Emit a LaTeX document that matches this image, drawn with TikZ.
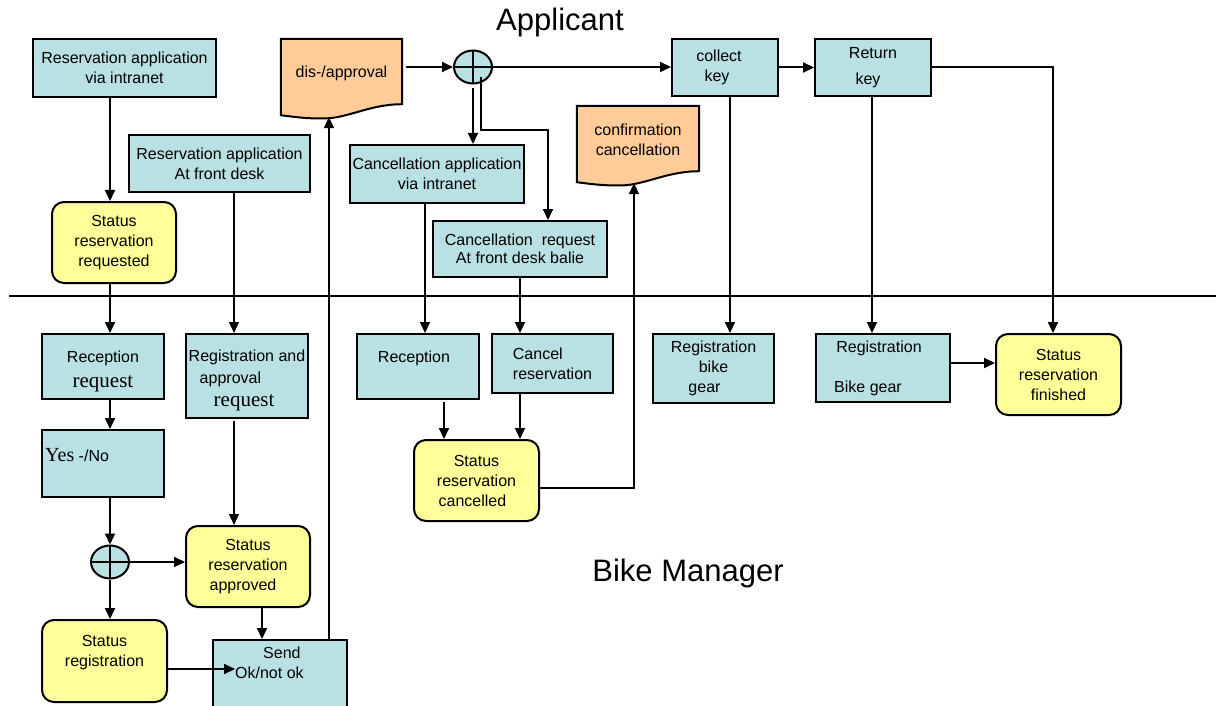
\documentclass[tikz,border=0pt]{standalone}
\usepackage{fontspec}
\setmainfont{Liberation Sans}
\newfontfamily\serifface{Liberation Serif}
\usetikzlibrary{arrows.meta,shapes.geometric,calc,backgrounds}

\definecolor{boxblue}{RGB}{185,224,227}
\definecolor{statusyellow}{RGB}{255,255,153}
\definecolor{docorange}{RGB}{255,204,153}

\tikzset{
  every node/.style={font=\fontsize{16}{20}\selectfont},
  task/.style={draw=black, line width=2pt, fill=boxblue, inner sep=0pt, align=center},
  state/.style={draw=black, line width=2pt, fill=statusyellow, rounded corners=12pt, inner sep=0pt, align=center},
  docbody/.style={inner sep=0pt, align=center},
  docline/.style={draw=black, line width=2pt, fill=docorange},
  xorgate/.style={ellipse, draw=black, line width=2pt, fill=boxblue, minimum width=38pt,
    minimum height=33pt, inner sep=0pt,
    path picture={\draw[line width=2pt]
      (path picture bounding box.north) -- (path picture bounding box.south)
      (path picture bounding box.west) -- (path picture bounding box.east);}},
  flow/.style={line width=2pt, -{Triangle[length=11pt,width=10pt]}},
  thinflow/.style={line width=1.3pt, -{Triangle[length=11pt,width=10pt]}},
  link/.style={line width=2pt},
  lane/.style={font=\fontsize{31}{36}\selectfont}
}

% document symbol: flat top, wavy bottom hanging below the node
\newcommand\docoutline[1]{%
  \filldraw[docline] (#1.north west) -- (#1.north east) -- ($(#1.south east)+(0,-3)$)
    .. controls ($(#1.south east)+(-30,-3)$) and ($(#1.south)+(10,9)$) .. ($(#1.south)+(-12,11)$)
    .. controls ($(#1.south)+(-30,12)$) and ($(#1.south west)+(15,10)$) .. ($(#1.south west)+(0,8)$)
    -- cycle;}
\newcommand\reqword{{\serifface\fontsize{21}{24}\selectfont request}}

\begin{document}
\begin{tikzpicture}[x=1pt,y=-1pt]
\useasboundingbox (0,0) rectangle (1216,706);

% lane titles and divider
\node[lane] (applicant) at (560,22) {Applicant};
\node[lane] (bikemgr) at (688,573) {Bike Manager};
\draw[link] (9,296) -- (1216,296);

% applicant lane
\node[task, minimum width=183pt, minimum height=58pt] (raint) at (124.5,68) {Reservation application\\via intranet};
\node[task, minimum width=181pt, minimum height=57pt] (rafd) at (219.5,163.5) {Reservation application\\At front desk};
\node[state, minimum width=124pt, minimum height=81pt] (sreq) at (114,242.5) {Status\\reservation\\requested};
\node[docbody, minimum width=121pt, minimum height=68pt] (dis) at (341.5,73) {dis-/approval};
\node[xorgate] (gw1) at (473,67) {};
\node[task, minimum width=106pt, minimum height=57pt] (ckey) at (725,67.5) {collect\hspace*{12pt}\\key\hspace*{16pt}};
\node[task, minimum width=116pt, minimum height=57pt] (rkey) at (873,67.5) {Return\\[6pt]key\hspace*{10pt}};
\node[task, minimum width=174pt, minimum height=58pt] (canapp) at (437,174) {Cancellation application\\via intranet};
\node[task, minimum width=174pt, minimum height=56pt] (canreq) at (520,249) {Cancellation\ \ request\\[-2pt]At front desk balie};
\node[docbody, minimum width=122pt, minimum height=68pt] (conf) at (638,140) {confirmation\\cancellation};

\begin{scope}[on background layer]
  \docoutline{dis}
  \docoutline{conf}
\end{scope}

% bike manager lane
\node[task, minimum width=122pt, minimum height=65pt] (recreq) at (103,366.5) {\rule{0pt}{22pt}Reception\\[5pt]\reqword};
\node[task, minimum width=122pt, minimum height=84pt, align=left] (regapp) at (247,376) {\rule{0pt}{21pt}Registration and\\[2pt]\hspace*{11pt}approval\\[3pt]\hspace*{25pt}\reqword};
\node[task, minimum width=122pt, minimum height=67pt] (yn) at (103,463.5) {};
\node[anchor=base west, inner sep=0pt] (ynt) at (45,461) {{\serifface\fontsize{20}{24}\selectfont Yes} -/No};
\node[xorgate] (gw2) at (110,562) {};
\node[state, minimum width=124pt, minimum height=81pt] (sapp) at (248,566.5) {Status\\reservation\\approved\hspace*{10pt}};
\node[state, minimum width=125pt, minimum height=82pt] (sreg) at (104.5,661) {Status\\registration\\~};
\node[task, minimum width=134pt, minimum height=72pt] (send) at (280,676) {};
\node[anchor=north west, inner sep=0pt, align=left] (sendt) at (235,647) {\hspace*{28pt}Send\\Ok/not ok};
\node[task, minimum width=122pt, minimum height=65pt] (rec2) at (418,366.5) {Reception\hspace*{8pt}\\~};
\node[task, minimum width=121pt, minimum height=59pt, align=left] (cancel) at (552.5,363.5) {Cancel\\reservation};
\node[state, minimum width=125pt, minimum height=81pt] (scan) at (476.5,480.5) {Status\\reservation\\cancelled\hspace*{8pt}};
\node[task, minimum width=121pt, minimum height=69pt] (rbg1) at (713.5,368.5) {Registration\\bike\hspace*{18pt}\\gear\hspace*{18pt}};
\node[task, minimum width=134pt, minimum height=68pt] (rbg2) at (883,368) {Registration\hspace*{8pt}\\~\\Bike gear\hspace*{30pt}};
\node[state, minimum width=125pt, minimum height=81pt] (sfin) at (1058.5,374.5) {Status\\reservation\\finished};

% column and turning points of the connectors
\coordinate (xA) at (110,0);
\coordinate (xB) at (234,0);
\coordinate (xC) at (262,0);
\coordinate (xD) at (329,0);
\coordinate (xH) at (425,0);
\coordinate (xI) at (444,0);
\coordinate (xK) at (634,0);
\coordinate (xL) at (730,0);
\coordinate (xM) at (872,0);
\coordinate (xF) at (1053,0);
\coordinate (bend) at (548,130);
\coordinate (ycan) at (0,488);
\coordinate (okin) at (235,669);

% connectors
\draw[flow] (raint.south -| xA) -- (sreq.north -| xA);
\draw[flow] (sreq.south -| xA) -- (recreq.north -| xA);
\draw[flow] (recreq.south -| xA) -- (yn.north -| xA);
\draw[flow] (yn.south -| xA) -- (gw2.north);
\draw[flow] (gw2.south) -- (sreg.north -| xA);
\draw[flow] (gw2.east) -- (gw2.east -| sapp.west);
\draw[thinflow] (rafd.south -| xB) -- (regapp.north -| xB);
\draw[thinflow] ($(regapp.south -| xB)+(0,2)$) -- (sapp.north -| xB);
\draw[flow] (sapp.south -| xC) -- (send.north -| xC);
\draw[flow] (sreg.east |- okin) -- (okin);
\draw[flow] (send.north -| xD) -- ($(dis.south -| xD)+(0,10)$);
\draw[flow] ([xshift=4pt]dis.east |- gw1.west) -- (gw1.west);
\draw[flow] (gw1.east) -- (gw1.east -| ckey.west);
\draw[flow] (ckey.east) -- (rkey.west);
\draw[flow] (rkey.east) -| (xF |- sfin.north);
\draw[flow] ([yshift=-4pt]gw1.south) -- (canapp.north -| gw1.south);
\draw[flow] ($(gw1.center)+(8,10)$) |- (bend) -- (bend |- canreq.north);
\draw[flow] (canapp.south -| xH) -- (rec2.north -| xH);
\draw[flow] (canreq.south) -- (canreq.south |- cancel.north);
\draw[flow] ($(rec2.south -| xI)+(0,2)$) -- (scan.north -| xI);
\draw[flow] (cancel.south -| canreq.south) -- (scan.north -| canreq.south);
\draw[flow] (scan.east |- ycan) -| ($(conf.south -| xK)+(0,9)$);
\draw[flow] (ckey.south -| xL) -- (rbg1.north -| xL);
\draw[flow] (rkey.south -| xM) -- (rbg2.north -| xM);
\draw[flow] ([yshift=5pt]rbg2.east) -- ([yshift=5pt]rbg2.east -| sfin.west);
\end{tikzpicture}
\end{document}
